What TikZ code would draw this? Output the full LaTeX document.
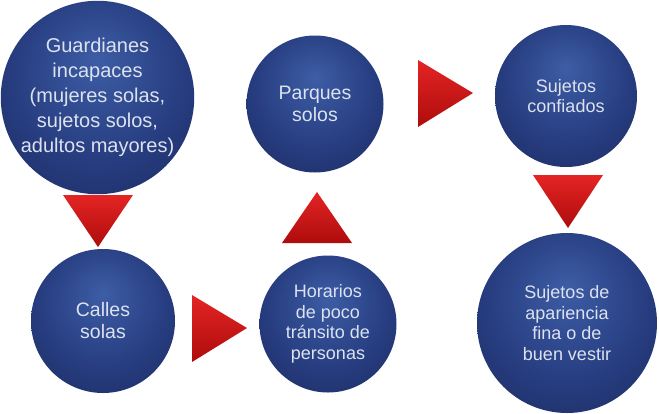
\documentclass[tikz,border=0pt]{standalone}
\usepackage{fontspec}
\setmainfont{Liberation Sans}
\usetikzlibrary{positioning}
\usepackage{xcolor}

\definecolor{orbLight}{HTML}{3D5DA5}
\definecolor{orbMid}{HTML}{273D80}
\definecolor{orbDark}{HTML}{141C48}
\definecolor{orbText}{HTML}{DCE2EF}
\definecolor{triLight}{HTML}{E42424}
\definecolor{triDark}{HTML}{AE0C0C}
\pgfdeclareradialshading{orbshade}{\pgfpoint{0bp}{10bp}}{color(0bp)=(orbLight); color(22bp)=(orbMid); color(52bp)=(orbDark)}

\tikzset{
	bubble/.style={circle, shading=orbshade, text=orbText, align=center, inner sep=0pt, font=\fontsize{18}{20.5}\selectfont},
	bigtext/.style={font=\fontsize{20}{25}\selectfont},
	wedge/.style={top color=triLight, bottom color=triDark}
}

\begin{document}
\begin{tikzpicture}[x=1pt,y=-1pt]
		\useasboundingbox (0,0) rectangle (659,413);
		\draw (97.5,97.5) node[bubble, bigtext, minimum size=188pt] (guard) {Guardianes\\incapaces\\(mujeres solas,\\sujetos solos,\\adultos mayores)}
		(103,321) node[bubble, font=\fontsize{19.5}{22}\selectfont, minimum size=144pt] (calles) {Calles\\solas}
		(328,324) node[bubble, minimum size=137pt] (horarios) {Horarios\\de poco\\tr\'ansito de\\personas}
		(315,104) node[bubble, font=\fontsize{19.5}{22}\selectfont, minimum size=137pt] (parques) {Parques\\solos}
		(566,96) node[bubble, minimum size=142pt] (confiados) {Sujetos\\confiados}
		(567,323) node[bubble, minimum size=180pt] (apariencia) {Sujetos de\\apariencia\\fina o de\\buen vestir};
		
		\shade[wedge] (63,195) -- (133,195) -- (98,247) -- cycle;
		\shade[wedge] (192,295) -- (247,328) -- (192,362) -- cycle;
		\shade[wedge] (282,243) -- (352,243) -- (317,192) -- cycle;
		\shade[wedge] (418,60) -- (473,93) -- (418,127) -- cycle;
		\shade[wedge] (533,175) -- (603,175) -- (568,228) -- cycle;
	\end{tikzpicture}
\end{document}
